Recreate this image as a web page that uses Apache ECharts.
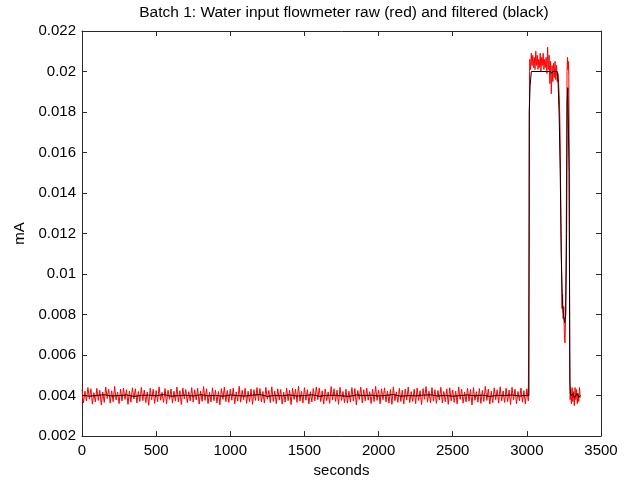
<!DOCTYPE html>
<html><head><meta charset="utf-8">
<script src="https://cdn.jsdelivr.net/npm/echarts@6/dist/echarts.min.js"></script>
<style>html,body{margin:0;padding:0;background:#fff}#c{width:633px;height:483px}</style>
</head><body><div id="c"></div>
<script>
// Title and axes
const titleText = 'Batch 1: Water input flowmeter raw (red) and filtered (black)';
const xName = 'seconds';
const yName = 'mA';
const xTicks = [0, 500, 1000, 1500, 2000, 2500, 3000, 3500];
const yTicks = [0.002, 0.004, 0.006, 0.008, 0.01, 0.012, 0.014, 0.016, 0.018, 0.02, 0.022];

// Raw signal baseline (0..3010 s every 10 s), offsets from 0.004 mA in units of 1.2e-5 mA
const rawBaseLevel = 0.004;
const rawBaseStep = 10;
const rawOffsetUnit = 1.2e-5;
const rawBaseOffsets = [
25,-30,18,-22,33,-15,28,-35,12,-26,30,-20,22,-38,15,-28,35,-12,26,-31,
20,-25,38,-18,14,-33,27,-22,31,-16,24,-36,19,-27,32,-14,28,-30,17,-24,
34,-21,23,-29,15,-40,30,-17,26,-32,21,-25,36,-19,13,-28,29,-34,22,-15,
27,-31,18,-23,35,-26,20,-37,31,-14,25,-29,16,-22,33,-27,24,-18,30,-35,
19,-24,37,-20,28,-33,14,-26,32,-21,23,-30,17,-38,29,-16,35,-25,21,-28,
26,-19,31,-34,15,-23,38,-27,22,-17,30,-32,18,-25,27,-36,24,-20,33,-22,
29,-26,17,-31,34,-15,21,-29,36,-24,19,-33,28,-18,25,-35,14,-27,31,-21,
22,-37,30,-16,26,-28,39,-23,18,-30,33,-19,24,-34,16,-26,29,-22,35,-17,
31,-25,20,-35,27,-21,15,-32,37,-18,28,-24,22,-36,34,-20,17,-29,26,-31,
18,-27,33,-23,29,-38,21,-16,35,-30,24,-22,31,-19,16,-33,27,-25,38,-20,
23,-34,28,-17,32,-26,19,-31,25,-36,36,-21,15,-28,30,-24,22,-35,27,-18,
35,-29,16,-24,26,-33,31,-20,20,-37,29,-15,37,-27,18,-30,33,-23,24,-32,
21,-18,34,-30,17,-25,28,-36,32,-22,23,-28,19,-34,36,-16,26,-31,15,-26,
30,-23,25,-39,33,-19,16,-27,29,-32,21,-24,38,-20,27,-35,18,-29,32,-17,
24,-31,36,-22,19,-28,30,-25,23,-37,34,-18,26,-33,17,-21,31,-27,20,-34,
28,-22
];
// Raw signal active part (seconds, mA)
const rawActiveT = [3014,3016,3018,3020,3025,3030,3035,3040,3045,3050,3055,3060,3065,3070,3075,3080,3085,3090,3095,3100,3105,3110,3115,3120,3125,3130,3135,3140,3145,3150,3155,3160,3165,3170,3175,3180,3185,3190,3195,3200,3205,3210,3215,3220,3224,3228,3231,3234,3237,3241,3245,3249,3253,3257,3261,3265,3268,3271,3274,3277,3280,3283,3286,3289,3292,3295,3300,3305,3310,3315,3320,3325,3330,3335,3340,3345,3350,3355,3360];
const rawActiveV = [0.0038,0.0130,0.0200,0.0206,0.0201,0.0209,0.0203,0.0208,0.0202,0.0207,0.0201,0.0210,0.0203,0.0208,0.0201,0.0206,0.0202,0.0209,0.0200,0.0207,0.0203,0.0209,0.0201,0.0206,0.0202,0.0207,0.0199,0.0212,0.0201,0.0208,0.0194,0.0205,0.0189,0.0203,0.0195,0.0204,0.0197,0.0205,0.0196,0.0203,0.0195,0.0199,0.0193,0.0185,0.0170,0.0140,0.0118,0.0100,0.0083,0.0090,0.0078,0.0084,0.0070,0.0066,0.0078,0.0110,0.0160,0.0200,0.0207,0.0201,0.0205,0.0198,0.0150,0.0060,0.0038,0.0043,0.0036,0.0044,0.0037,0.0042,0.0035,0.0044,0.0038,0.0043,0.0036,0.0041,0.0037,0.0044,0.0039];

// Filtered signal baseline (0..3000 s every 50 s), offsets from 0.004 mA in 1e-5 mA
const filtBaseStep = 50;
const filtOffsetUnit = 1e-5;
const filtBaseOffsets = [2,-3,1,4,-2,0,3,-4,1,2,-1,5,-3,0,2,-2,4,-1,1,-3,3,0,-2,2,5,-4,1,-1,3,-2,0,4,-3,1,2,-1,-4,3,0,2,-2,1,5,-3,0,-1,2,4,-2,1,-3,0,3,-1,2,-4,1,0,3,-2,1];
const filtActiveT = [3014,3016,3022,3030,3100,3160,3168,3175,3205,3210,3218,3225,3232,3240,3248,3255,3262,3268,3272,3276,3281,3285,3290,3293,3300,3310,3320,3330,3340,3350,3360];
const filtActiveV = [0.0040,0.0180,0.0193,0.0200,0.0200,0.0200,0.0199,0.0200,0.0200,0.0196,0.0178,0.0150,0.0110,0.0085,0.0079,0.0076,0.0080,0.0120,0.0185,0.0192,0.0192,0.0150,0.0047,0.0041,0.0040,0.0041,0.0039,0.0040,0.0041,0.0039,0.0040];

const rawData = rawBaseOffsets.map((o, i) => [i * rawBaseStep, rawBaseLevel + o * rawOffsetUnit])
  .concat(rawActiveT.map((t, i) => [t, rawActiveV[i]]));
const filtData = filtBaseOffsets.map((o, i) => [i * filtBaseStep, rawBaseLevel + o * filtOffsetUnit])
  .concat(filtActiveT.map((t, i) => [t, filtActiveV[i]]));

const FONT = 'Liberation Sans, Arial, sans-serif';
const axisCol = '#2b2b2b';
const chart = echarts.init(document.getElementById('c'), null, {renderer: 'canvas'});
const xStep = xTicks[1] - xTicks[0];
const yStep = +(yTicks[1] - yTicks[0]).toFixed(6);
function mkX(pos, showLabel) {
  return {
    type: 'value', position: pos, min: xTicks[0], max: xTicks[xTicks.length - 1], interval: xStep,
    axisLine: {show: true, onZero: false, lineStyle: {color: axisCol, width: 1}},
    axisTick: {show: true, inside: true, length: 5, lineStyle: {color: axisCol, width: 1}},
    splitLine: {show: false},
    axisLabel: {show: showLabel, fontFamily: FONT, fontSize: 15, color: '#000', margin: 7,
      formatter: v => String(v)}
  };
}
function mkY(pos, showLabel) {
  return {
    type: 'value', position: pos, min: yTicks[0], max: yTicks[yTicks.length - 1], interval: yStep,
    axisLine: {show: true, onZero: false, lineStyle: {color: axisCol, width: 1}},
    axisTick: {show: true, inside: true, length: 5, lineStyle: {color: axisCol, width: 1}},
    splitLine: {show: false},
    axisLabel: {show: showLabel, fontFamily: FONT, fontSize: 15, color: '#000', margin: 6,
      formatter: v => String(parseFloat(v.toFixed(3)))}
  };
}
const xBottom = mkX('bottom', true);
xBottom.name = xName; xBottom.nameLocation = 'middle'; xBottom.nameGap = 25;
xBottom.nameTextStyle = {fontFamily: FONT, fontSize: 15, color: '#000'};
const yLeft = mkY('left', true);
yLeft.name = yName; yLeft.nameLocation = 'middle'; yLeft.nameGap = 46; yLeft.nameRotate = 90;
yLeft.nameTextStyle = {fontFamily: FONT, fontSize: 15, color: '#000'};

chart.setOption({
  animation: false,
  backgroundColor: '#fff',
  title: {text: titleText, left: 339, textAlign: 'center', top: 0,
    textStyle: {fontFamily: FONT, fontSize: 15.5, fontWeight: 'normal', color: '#000'}},
  grid: {left: 82, right: 32, top: 31, bottom: 46, containLabel: false},
  xAxis: [xBottom, mkX('top', false)],
  yAxis: [yLeft, mkY('right', false)],
  series: [
    {type: 'line', data: rawData, showSymbol: false, symbol: 'none',
      lineStyle: {color: '#ff0000', width: 1}, xAxisIndex: 0, yAxisIndex: 0, z: 2},
    {type: 'line', data: filtData, showSymbol: false, symbol: 'none',
      lineStyle: {color: '#000000', width: 1}, xAxisIndex: 0, yAxisIndex: 0, z: 3}
  ]
});
</script></body></html>
